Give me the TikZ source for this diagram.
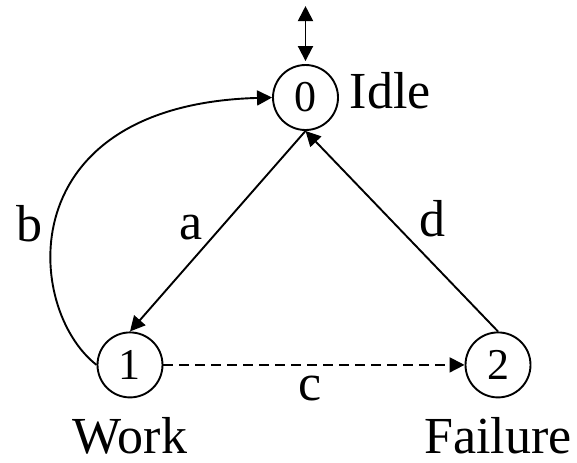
\documentclass[tikz,border=0pt]{standalone}
\usepackage{fontspec}
\setmainfont{Liberation Serif}
\usetikzlibrary{positioning,arrows.meta}

\begin{document}
\begin{tikzpicture}[line width=0.95pt, >={Triangle[length=7.5pt,width=7.5pt]},
  state/.style={draw, circle, minimum size=32.5pt, inner sep=0pt, font=\fontsize{22}{26}\selectfont},
  lbl/.style={inner sep=0pt, font=\fontsize{26}{30}\selectfont},
  edgelbl/.style={inner sep=2pt, font=\fontsize{26}{30}\selectfont}]
\useasboundingbox (-152.75pt,48.75pt) rectangle (135.75pt,-182.25pt);
\node[state] (zero) {0};
\node[state, below=100.25pt of zero, xshift=-87.75pt] (one) {1};
\node[state, below=100.25pt of zero, xshift=96.25pt] (two) {2};
\coordinate[above=29pt of zero] (init);
% state names
\node[lbl, anchor=base west] (idle) at ([xshift=5pt,yshift=-5.25pt]zero.east) {Idle};
\node[lbl, anchor=base] (work) at ([yshift=-44.5pt]one.center) {Work};
\node[lbl, anchor=base] (failure) at ([yshift=-44.5pt]two.center) {Failure};
% transitions
\draw[<->, shorten >=1.5pt] (init) -- (zero);
\draw[->] (zero.south) -- (one.north) node[edgelbl, pos=0.48, left=7pt] {a};
\draw[->] (one.west) .. controls +(-36pt,28pt) and +(-131.5pt,-3.75pt) .. (zero.west)
  node[edgelbl, pos=0.47, left=4pt] {b};
\draw[->, dash pattern=on 5pt off 3pt] (one.east) -- (two.west) node[edgelbl, midway, below=3pt, xshift=-2pt] {c};
\draw[->] (two.north) -- (zero.south) node[edgelbl, pos=0.56, right=12pt] {d};
\end{tikzpicture}
\end{document}
